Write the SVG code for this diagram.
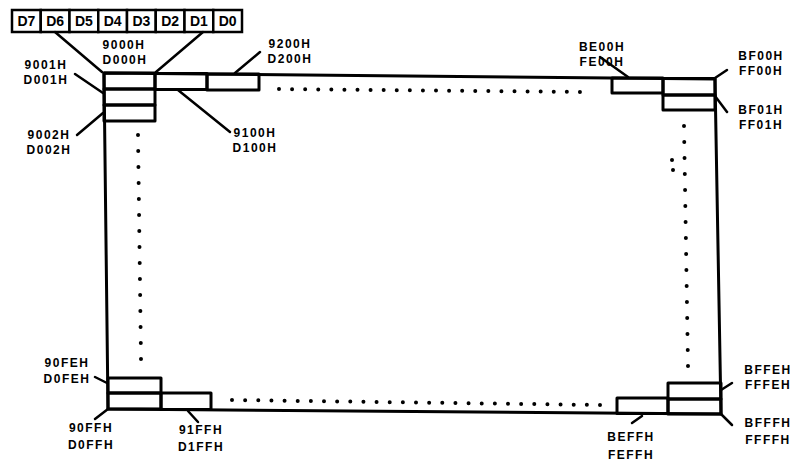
<svg xmlns="http://www.w3.org/2000/svg" width="800" height="468" viewBox="0 0 800 468">
<style>
.ln{fill:none;stroke:#000;stroke-width:3;stroke-linejoin:round}
.bx{fill:#fff;stroke:#000;stroke-width:2.5}
.t{font-family:"Liberation Sans",Arial,sans-serif;font-weight:bold;font-size:12px;letter-spacing:1.5px;fill:#000;text-anchor:middle}
.r{font-family:"Liberation Sans",Arial,sans-serif;font-weight:bold;font-size:14px;fill:#000;text-anchor:middle}
.ld{fill:none;stroke:#000;stroke-width:2.5;stroke-linecap:round}
.dots{fill:none;stroke:#000;stroke-width:4;stroke-linecap:round}
</style>
<rect width="800" height="468" fill="#fff"/>

<g id="register">
  <rect class="bx" x="12" y="10" width="28.75" height="22"/>
  <rect class="bx" x="40.75" y="10" width="28.75" height="22"/>
  <rect class="bx" x="69.5" y="10" width="28.75" height="22"/>
  <rect class="bx" x="98.25" y="10" width="28.75" height="22"/>
  <rect class="bx" x="127" y="10" width="28.75" height="22"/>
  <rect class="bx" x="155.75" y="10" width="28.75" height="22"/>
  <rect class="bx" x="184.5" y="10" width="28.75" height="22"/>
  <rect class="bx" x="213.25" y="10" width="28.75" height="22"/>
  <text class="r" x="26.4" y="26">D7</text>
  <text class="r" x="55.1" y="26">D6</text>
  <text class="r" x="83.9" y="26">D5</text>
  <text class="r" x="112.6" y="26">D4</text>
  <text class="r" x="141.4" y="26">D3</text>
  <text class="r" x="170.1" y="26">D2</text>
  <text class="r" x="198.9" y="26">D1</text>
  <text class="r" x="227.6" y="26">D0</text>
</g>

<g id="frame">
  <path class="ln" d="M104,73 L715,79 L721,414 L108,409 Z"/>
</g>

<g id="cell-9000H">
  <rect class="ln" x="104" y="73" width="51" height="16"/>
  <text class="t" x="124" y="49">9000H</text>
  <text class="t" x="125" y="64">D000H</text>
</g>
<g id="cell-9100H">
  <rect class="ln" x="155" y="73.5" width="52" height="16"/>
  <text class="t" x="255" y="137">9100H</text>
  <text class="t" x="255" y="152">D100H</text>
</g>
<g id="cell-9200H">
  <rect class="ln" x="207" y="74" width="52" height="16"/>
  <text class="t" x="290" y="48">9200H</text>
  <text class="t" x="290" y="63">D200H</text>
</g>
<g id="cell-9001H">
  <rect class="ln" x="104" y="89" width="51" height="16"/>
  <text class="t" x="46" y="69">9001H</text>
  <text class="t" x="46" y="84">D001H</text>
</g>
<g id="cell-9002H">
  <rect class="ln" x="104" y="105" width="51" height="16"/>
  <text class="t" x="49" y="139">9002H</text>
  <text class="t" x="49" y="154">D002H</text>
</g>

<g id="cell-BE00H">
  <rect class="ln" x="612" y="78" width="51" height="15"/>
  <text class="t" x="602" y="51">BE00H</text>
  <text class="t" x="602" y="66">FE00H</text>
</g>
<g id="cell-BF00H">
  <rect class="ln" x="663" y="78.5" width="52" height="16.5"/>
  <text class="t" x="761" y="60">BF00H</text>
  <text class="t" x="761" y="75">FF00H</text>
</g>
<g id="cell-BF01H">
  <rect class="ln" x="663" y="95" width="52" height="15"/>
  <text class="t" x="761" y="114">BF01H</text>
  <text class="t" x="761" y="129">FF01H</text>
</g>

<g id="cell-90FEH">
  <rect class="ln" x="108" y="378" width="53" height="15"/>
  <text class="t" x="67" y="367">90FEH</text>
  <text class="t" x="67" y="383">D0FEH</text>
</g>
<g id="cell-90FFH">
  <rect class="ln" x="108" y="393" width="53" height="16"/>
  <text class="t" x="91" y="432">90FFH</text>
  <text class="t" x="91" y="449">D0FFH</text>
</g>
<g id="cell-91FFH">
  <rect class="ln" x="161" y="393" width="50" height="16.5"/>
  <text class="t" x="201" y="434">91FFH</text>
  <text class="t" x="201" y="451">D1FFH</text>
</g>

<g id="cell-BEFFH">
  <rect class="ln" x="617" y="398" width="51" height="15.5"/>
  <text class="t" x="631" y="441">BEFFH</text>
  <text class="t" x="631" y="459">FEFFH</text>
</g>
<g id="cell-BFFEH">
  <rect class="ln" x="668" y="383" width="53" height="16"/>
  <text class="t" x="768" y="374">BFFEH</text>
  <text class="t" x="768" y="389">FFFEH</text>
</g>
<g id="cell-BFFFH">
  <rect class="ln" x="668" y="399" width="53" height="15"/>
  <text class="t" x="768" y="427">BFFFH</text>
  <text class="t" x="768" y="444">FFFFH</text>
</g>

<g id="connectors">
  <line class="ld" x1="55" y1="32" x2="102" y2="72"/>
  <line class="ld" x1="203" y1="32" x2="156" y2="72"/>
  <line class="ld" x1="75" y1="74" x2="103" y2="93"/>
  <line class="ld" x1="77" y1="135" x2="103" y2="113"/>
  <line class="ld" x1="230" y1="132" x2="178" y2="90"/>
  <line class="ld" x1="260" y1="52" x2="235" y2="73"/>
  <line class="ld" x1="600" y1="57" x2="628" y2="77"/>
  <line class="ld" x1="715" y1="78" x2="727" y2="70"/>
  <line class="ld" x1="715" y1="96" x2="727" y2="112"/>
  <line class="ld" x1="95" y1="377" x2="107" y2="383"/>
  <line class="ld" x1="108" y1="409" x2="95" y2="419"/>
  <line class="ld" x1="188" y1="411" x2="198" y2="422"/>
  <line class="ld" x1="642" y1="416" x2="632" y2="423"/>
  <line class="ld" x1="721" y1="390" x2="732" y2="383"/>
  <line class="ld" x1="721" y1="414" x2="732" y2="425"/>
</g>

<g id="ellipsis">
  <line class="dots" x1="279" y1="89" x2="593" y2="92" stroke-dasharray="0 13.084"/>
  <line class="dots" x1="232" y1="400" x2="600" y2="405" stroke-dasharray="0 13.144"/>
  <line class="dots" x1="138" y1="135" x2="141" y2="359" stroke-dasharray="0 16.001"/>
  <line class="dots" x1="684" y1="126" x2="688" y2="366" stroke-dasharray="0 16.002"/>
  <circle cx="672" cy="160" r="2"/>
  <circle cx="673" cy="170" r="2"/>
</g>
</svg>
